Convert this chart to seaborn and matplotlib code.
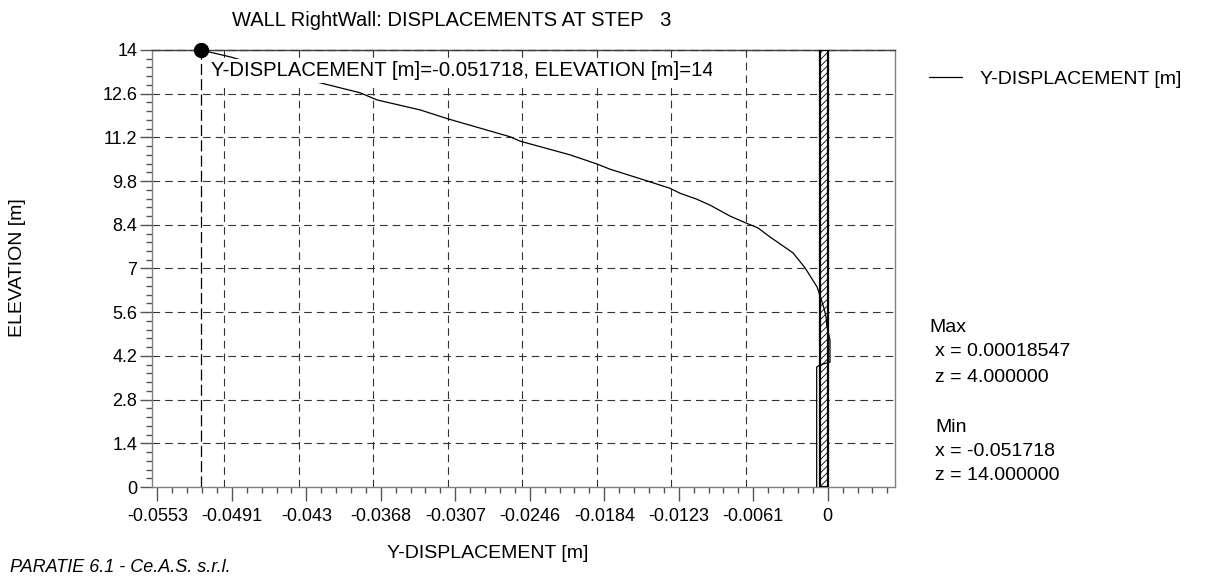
import numpy as np
import pandas as pd
import matplotlib
matplotlib.use("Agg")
import matplotlib.pyplot as plt
import seaborn as sns
from matplotlib.patches import Rectangle
from matplotlib.lines import Line2D
from matplotlib.ticker import MultipleLocator
from matplotlib.transforms import Bbox, TransformedBbox

# ---------------- data ----------------
elevation = [14.0, 13.78, 12.95, 12.63, 12.40, 12.08, 11.79, 11.22, 11.08, 10.64,
             10.35, 10.18, 9.81, 9.57, 9.41, 9.22, 9.03, 8.68, 8.47, 8.30,
             8.01, 7.50, 7.02, 6.41, 6.06, 5.73, 5.45, 5.19, 4.71, 4.00,
             3.91, 3.84, 0.0]
displacement = [-0.051718, -0.04929, -0.04188, -0.03858, -0.03717, -0.03362, -0.03129,
                -0.02620, -0.02538, -0.02125, -0.01905, -0.01795, -0.01493, -0.01301,
                -0.01218, -0.01080, -0.00971, -0.00806, -0.00682, -0.00575, -0.00476,
                -0.00286, -0.00187, -0.00088, -0.00058, -0.00031, -0.00014, -0.00008,
                0.00018547, 0.00018547, -0.00064, -0.00091, -0.00091]

x_tick_labels = ['-0.0553', '-0.0491', '-0.043', '-0.0368', '-0.0307',
                 '-0.0246', '-0.0184', '-0.0123', '-0.0061', '0']
y_tick_values = [0, 1.4, 2.8, 4.2, 5.6, 7, 8.4, 9.8, 11.2, 12.6, 14]
y_tick_labels = ['0', '1.4', '2.8', '4.2', '5.6', '7', '8.4', '9.8', '11.2', '12.6', '14']

max_x, max_z = 0.00018547, 4.0
min_x, min_z = -0.051718, 14.0
wall_left, wall_right = -0.00064, 0.00006

title_text = 'WALL RightWall: DISPLACEMENTS AT STEP   3'
series_name = 'Y-DISPLACEMENT [m]'
y_name = 'ELEVATION [m]'
footer_text = 'PARATIE 6.1 - Ce.A.S. s.r.l.'

# ---------------- style ----------------
sns.set_theme(style='ticks')
plt.rcParams['font.family'] = ['Liberation Sans', 'DejaVu Sans']
plt.rcParams['text.color'] = 'black'
plt.rcParams['lines.scale_dashes'] = False
plt.rcParams['hatch.linewidth'] = 0.6
plt.rcParams['hatch.color'] = 'black'

W, H = 1207, 584
fig = plt.figure(figsize=(W / 100, H / 100), dpi=100)
fig.patch.set_facecolor('white')
ax = fig.add_axes([152 / W, 1 - 487 / H, 743 / W, 437 / H])
ax.set_facecolor('white')

x_min_lim, x_max_lim = -0.05574, 0.00555
ax.set_xlim(x_min_lim, x_max_lim)
ax.set_ylim(0, 14)

tick_step = 0.0553 / 9
x_tick_values = [-0.0553 + k * tick_step for k in range(len(x_tick_labels))]
x_tick_values[-1] = 0.0
grid_offset = 0.00061

# grid
dash = (0, (5.5, 3.6))
for yv in y_tick_values[1:-1]:
    ax.axhline(yv, color='#333333', lw=0.8, linestyle=dash, zorder=1)
for xv in x_tick_values[1:-1]:
    ax.axvline(xv - grid_offset, color='#333333', lw=0.8, linestyle=dash, zorder=1)

# crosshair at min point
ax.axvline(min_x, color='black', lw=0.9, linestyle=(0, (8, 3)), zorder=2)
ax.axhline(min_z, color='black', lw=0.9, linestyle=(0, (6, 3)), zorder=2, clip_on=False)

# wall
ax.add_patch(Rectangle((wall_left, 0), wall_right - wall_left, 14,
                       facecolor='white', edgecolor='black', hatch='/////',
                       lw=1.6, zorder=4))

# curve
df = pd.DataFrame({'x': displacement, 'z': elevation})
sns.lineplot(data=df, x='x', y='z', sort=False, estimator=None, color='black',
             lw=0.9, ax=ax, zorder=5, legend=False)
ax.plot([min_x], [min_z], 'o', color='black', ms=10, clip_on=False, zorder=7)

# annotation
ann = ax.text(0.0794, 0.974,
              f'{series_name}={min_x}, ELEVATION [m]={min_z:g}',
              transform=ax.transAxes, ha='left', va='top', fontsize=14.6,
              color='black', zorder=6,
              bbox=dict(facecolor='white', edgecolor='none', pad=2))
ann.set_clip_box(TransformedBbox(Bbox([[0, 0], [0.7537, 1.2]]), ax.transAxes))
ann.set_clip_on(True)

# ticks
ax.set_xticks(x_tick_values)
ax.set_xticklabels(x_tick_labels)
ax.xaxis.set_minor_locator(MultipleLocator(0.0553 / 45))
ax.set_yticks(y_tick_values)
ax.set_yticklabels(y_tick_labels)
ax.yaxis.set_minor_locator(MultipleLocator(0.28))
ax.tick_params(axis='x', which='both', bottom=True, top=False)
ax.tick_params(axis='y', which='both', left=True, right=False)
ax.tick_params(axis='x', which='major', length=10, width=1, color='#555555',
               direction='out', pad=5, labelsize=13, labelcolor='black')
ax.tick_params(axis='x', which='minor', length=4.3, width=1, color='#555555',
               direction='out')
ax.tick_params(axis='y', which='major', length=8.6, width=1, color='#555555',
               direction='out', pad=2, labelsize=13, labelcolor='black')
ax.tick_params(axis='y', which='minor', length=4.3, width=1, color='#555555',
               direction='out')
ax.set_xlabel('')
ax.set_ylabel('')

for side in ['left', 'right', 'bottom', 'top']:
    ax.spines[side].set_visible(True)
    ax.spines[side].set_color('#808080')
    ax.spines[side].set_linewidth(1)
ax.spines['top'].set_color('#404040')

# texts
fig.text(452 / W, 1 - 20 / H, title_text, ha='center', va='center', fontsize=14.5)
fig.text(488 / W, 1 - 553 / H, series_name, ha='center', va='center', fontsize=14)
fig.text(18 / W, 1 - 268 / H, y_name, rotation=90, ha='center', va='center', fontsize=14)
fig.text(10 / W, 1 - 568 / H, footer_text, ha='left', va='center', fontsize=13,
         style='italic')

# legend
handle = Line2D([], [], color='black', lw=0.9)
fig.legend([handle], [series_name], loc='center left',
           bbox_to_anchor=(929 / W, 1 - 79 / H), bbox_transform=fig.transFigure,
           frameon=False, fontsize=14, handlelength=1.7, handletextpad=0.93,
           borderpad=0, borderaxespad=0, labelcolor='black')

# max/min block
info = [('Max', 929, 327),
        (f'x = {max_x:.8f}', 935, 352),
        (f'z = {max_z:.6f}', 935, 377),
        ('Min', 935, 427),
        (f'x = {min_x:.6f}', 935, 451),
        (f'z = {min_z:.6f}', 935, 476)]
for txt, px, py in info:
    fig.text(px / W, 1 - py / H, txt, ha='left', va='center', fontsize=14)

fig.savefig('out.png', dpi=100, facecolor='white')
